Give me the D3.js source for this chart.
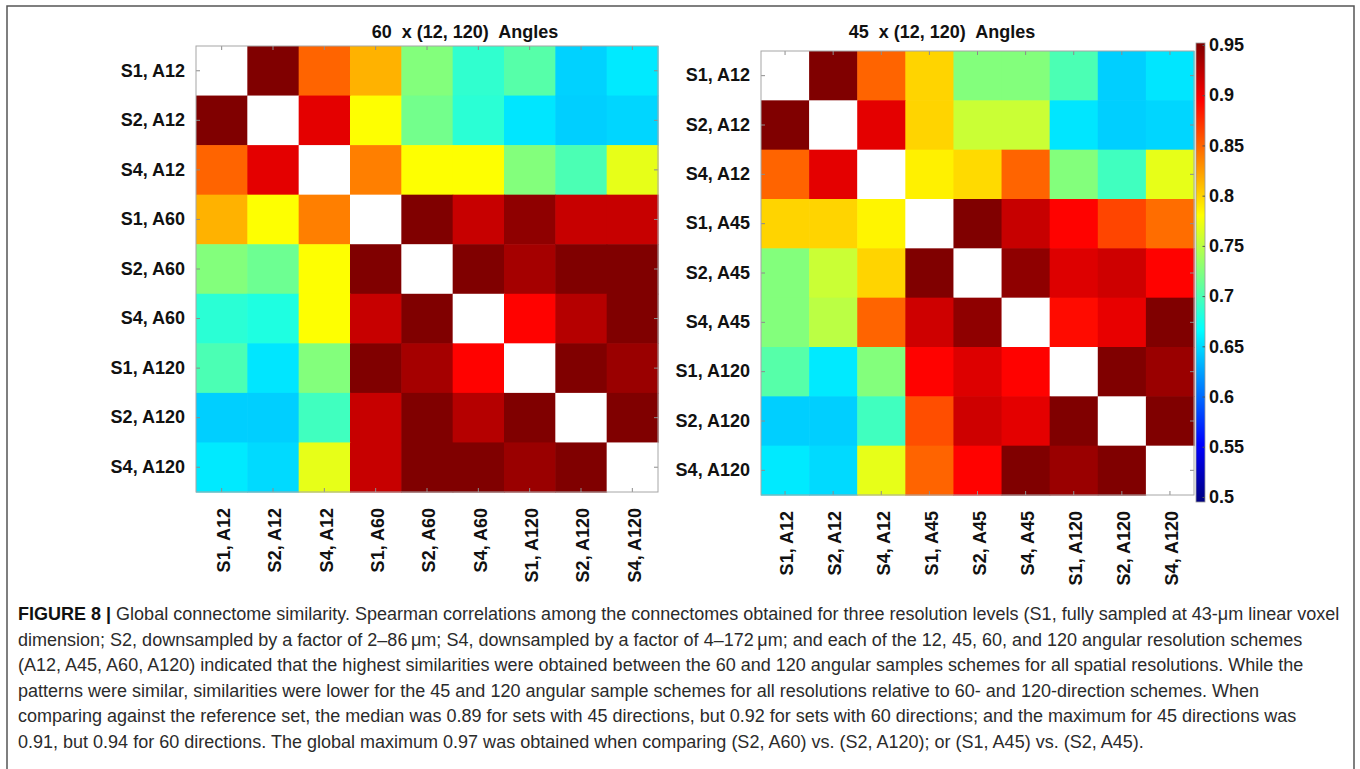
<!DOCTYPE html>
<html>
<head>
<meta charset="utf-8">
<script src="https://cdn.jsdelivr.net/npm/d3@7"></script>
<style>
  html, body { margin: 0; padding: 0; background: #fff; }
  svg { display: block; }
  text { font-family: "Liberation Sans", Arial, Helvetica, sans-serif; }
</style>
</head>
<body>
<svg id="fig" width="1360" height="769"></svg>
<script>
// ---- data -------------------------------------------------------------
const titleLeft = "60  x (12, 120)  Angles";
const titleRight = "45  x (12, 120)  Angles";

const labelsLeft = ["S1, A12", "S2, A12", "S4, A12", "S1, A60", "S2, A60", "S4, A60", "S1, A120", "S2, A120", "S4, A120"];
const labelsRight = ["S1, A12", "S2, A12", "S4, A12", "S1, A45", "S2, A45", "S4, A45", "S1, A120", "S2, A120", "S4, A120"];

// Spearman correlations (diagonal left blank)
const valuesLeft = [
  [null, 0.955, 0.850, 0.815, 0.725, 0.688, 0.705, 0.646, 0.657],
  [0.955, null, 0.907, 0.780, 0.718, 0.685, 0.655, 0.645, 0.648],
  [0.850, 0.907, null, 0.838, 0.780, 0.780, 0.725, 0.700, 0.770],
  [0.815, 0.780, 0.838, null, 0.955, 0.920, 0.945, 0.920, 0.920],
  [0.725, 0.715, 0.780, 0.955, null, 0.960, 0.935, 0.955, 0.955],
  [0.685, 0.680, 0.780, 0.920, 0.955, null, 0.894, 0.928, 0.955],
  [0.700, 0.655, 0.725, 0.955, 0.935, 0.894, null, 0.955, 0.940],
  [0.645, 0.645, 0.695, 0.920, 0.955, 0.928, 0.955, null, 0.955],
  [0.657, 0.650, 0.770, 0.920, 0.955, 0.955, 0.940, 0.955, null]
];

const valuesRight = [
  [null, 0.955, 0.850, 0.800, 0.725, 0.725, 0.700, 0.645, 0.655],
  [0.955, null, 0.907, 0.800, 0.757, 0.757, 0.655, 0.645, 0.648],
  [0.850, 0.907, null, 0.787, 0.797, 0.850, 0.725, 0.695, 0.770],
  [0.800, 0.800, 0.785, null, 0.955, 0.920, 0.894, 0.864, 0.846],
  [0.725, 0.757, 0.800, 0.955, null, 0.945, 0.910, 0.917, 0.894],
  [0.725, 0.750, 0.850, 0.917, 0.945, null, 0.890, 0.905, 0.955],
  [0.705, 0.657, 0.725, 0.894, 0.910, 0.894, null, 0.955, 0.940],
  [0.645, 0.645, 0.695, 0.860, 0.917, 0.907, 0.955, null, 0.955],
  [0.657, 0.650, 0.770, 0.850, 0.894, 0.955, 0.940, 0.955, null]
];

const colorRange = [0.495, 0.952];
const colorbarTicks = [0.5, 0.55, 0.6, 0.65, 0.7, 0.75, 0.8, 0.85, 0.9, 0.95];
const colorbarTickLabels = ["0.5", "0.55", "0.6", "0.65", "0.7", "0.75", "0.8", "0.85", "0.9", "0.95"];

const captionBold = "FIGURE 8 | ";
const captionLines = [
  "Global connectome similarity. Spearman correlations among the connectomes obtained for three resolution levels (S1, fully sampled at 43-\u03bcm linear voxel",
  "dimension; S2, downsampled by a factor of 2\u201386\u2009\u03bcm; S4, downsampled by a factor of 4\u2013172\u2009\u03bcm; and each of the 12, 45, 60, and 120 angular resolution schemes",
  "(A12, A45, A60, A120) indicated that the highest similarities were obtained between the 60 and 120 angular samples schemes for all spatial resolutions. While the",
  "patterns were similar, similarities were lower for the 45 and 120 angular sample schemes for all resolutions relative to 60- and 120-direction schemes. When",
  "comparing against the reference set, the median was 0.89 for sets with 45 directions, but 0.92 for sets with 60 directions; and the maximum for 45 directions was",
  "0.91, but 0.94 for 60 directions. The global maximum 0.97 was obtained when comparing (S2, A60) vs. (S2, A120); or (S1, A45) vs. (S2, A45)."
];

// ---- helpers ----------------------------------------------------------
function jet(t) {
  const c = v => Math.max(0, Math.min(1, v));
  const r = c(1.5 - Math.abs(4 * t - 3));
  const g = c(1.5 - Math.abs(4 * t - 2));
  const b = c(1.5 - Math.abs(4 * t - 1));
  return d3.rgb(r * 255, g * 255, b * 255).formatHex();
}
const tScale = d3.scaleLinear().domain(colorRange).range([0, 1]).clamp(true);
const fillFor = v => (v == null ? "#ffffff" : jet(tScale(v)));

const svg = d3.select("#fig");

// outer frame of the figure
svg.append("rect")
  .attr("x", 7).attr("y", 6).attr("width", 1347).attr("height", 790)
  .attr("fill", "none").attr("stroke", "#555").attr("stroke-width", 1.5);

// ---- heatmap panels ---------------------------------------------------
const panels = [
  { title: titleLeft, labels: labelsLeft, values: valuesLeft, x0: 196, y0: 46, w: 462, h: 446, titleX: 465 },
  { title: titleRight, labels: labelsRight, values: valuesRight, x0: 761, y0: 51, w: 433, h: 444, titleX: 942 }
];

const tickColor = "#8c8c8c";

panels.forEach(p => {
  const x = d3.scaleBand().domain(p.labels).range([0, p.w]);
  const y = d3.scaleBand().domain(p.labels).range([0, p.h]);
  const g = svg.append("g").attr("transform", `translate(${p.x0},${p.y0})`);

  const cells = [];
  p.values.forEach((row, i) => row.forEach((v, j) => cells.push({ r: p.labels[i], c: p.labels[j], v })));

  g.selectAll("rect.cell").data(cells).join("rect")
    .attr("class", "cell")
    .attr("x", d => x(d.c)).attr("y", d => y(d.r))
    .attr("width", x.bandwidth() + 0.6).attr("height", y.bandwidth() + 0.6)
    .attr("fill", d => fillFor(d.v));

  // axes: inward ticks, labels left and bottom
  const left = g.append("g").call(d3.axisLeft(y).tickSizeInner(-4).tickSizeOuter(0).tickPadding(11));
  const bottom = g.append("g").attr("transform", `translate(0,${p.h})`)
    .call(d3.axisBottom(x).tickSizeInner(-4).tickSizeOuter(0));
  const top = g.append("g").call(d3.axisTop(x).tickSizeInner(-4).tickSizeOuter(0).tickFormat(""));
  const right = g.append("g").attr("transform", `translate(${p.w},0)`)
    .call(d3.axisRight(y).tickSizeInner(-4).tickSizeOuter(0).tickFormat(""));

  [left, bottom, top, right].forEach(a => {
    a.select(".domain").remove();
    a.selectAll(".tick line").attr("stroke", tickColor);
  });

  left.selectAll(".tick text")
    .attr("font-size", 18).attr("font-weight", "bold").attr("fill", "#111");

  bottom.selectAll(".tick text")
    .attr("transform", "rotate(-90)")
    .attr("x", -16).attr("y", 2).attr("dy", "0.35em")
    .attr("text-anchor", "end")
    .attr("font-size", 18).attr("font-weight", "bold").attr("fill", "#111");

  // axes box
  g.append("rect").attr("width", p.w).attr("height", p.h)
    .attr("fill", "none").attr("stroke", "#a6a6a6").attr("stroke-width", 1);

  // title
  svg.append("text")
    .attr("x", p.titleX).attr("y", 38)
    .attr("text-anchor", "middle")
    .attr("font-size", 18).attr("font-weight", "bold").attr("fill", "#111")
    .style("white-space", "pre")
    .text(p.title);
});

// ---- colorbar ---------------------------------------------------------
const cbX = 1196, cbW = 9;
const cbY = d3.scaleLinear().domain(colorRange).range([502, 43]);

const grad = svg.append("defs").append("linearGradient")
  .attr("id", "jetGrad").attr("x1", 0).attr("y1", 1).attr("x2", 0).attr("y2", 0);
d3.range(0, 1.0001, 1 / 64).forEach(t => {
  grad.append("stop").attr("offset", t).attr("stop-color", jet(t));
});

svg.append("rect")
  .attr("x", cbX).attr("y", cbY(colorRange[1]))
  .attr("width", cbW).attr("height", cbY(colorRange[0]) - cbY(colorRange[1]))
  .attr("fill", "url(#jetGrad)")
  .attr("stroke", "#9a9a9a").attr("stroke-width", 0.8);

const cbAxis = svg.append("g").attr("transform", `translate(${cbX + cbW},0)`)
  .call(d3.axisRight(cbY).tickValues(colorbarTicks)
    .tickFormat((d, i) => colorbarTickLabels[i])
    .tickSizeInner(-2.5).tickSizeOuter(0).tickPadding(4));
cbAxis.select(".domain").remove();
cbAxis.selectAll(".tick line").attr("stroke", "#555");
cbAxis.selectAll(".tick text")
  .attr("font-size", 18).attr("font-weight", "bold").attr("fill", "#111");

// ---- caption ----------------------------------------------------------
const capX = 18, capY0 = 620, capStep = 25.6, capWidth = 1322;
const capG = svg.append("g");
const lineNodes = captionLines.map((line, i) => {
  const t = capG.append("text")
    .attr("x", 0).attr("y", capY0 + i * capStep)
    .attr("font-size", 18.5).attr("fill", "#2b2b2b");
  if (i === 0) {
    t.append("tspan").attr("font-weight", "bold").attr("fill", "#111").text(captionBold);
  }
  t.append("tspan").text(line);
  return t;
});
const w0 = lineNodes[0].node().getComputedTextLength();
const k = capWidth / w0;
capG.attr("transform", `translate(${capX},0) scale(${k},1)`);
</script>
</body>
</html>
